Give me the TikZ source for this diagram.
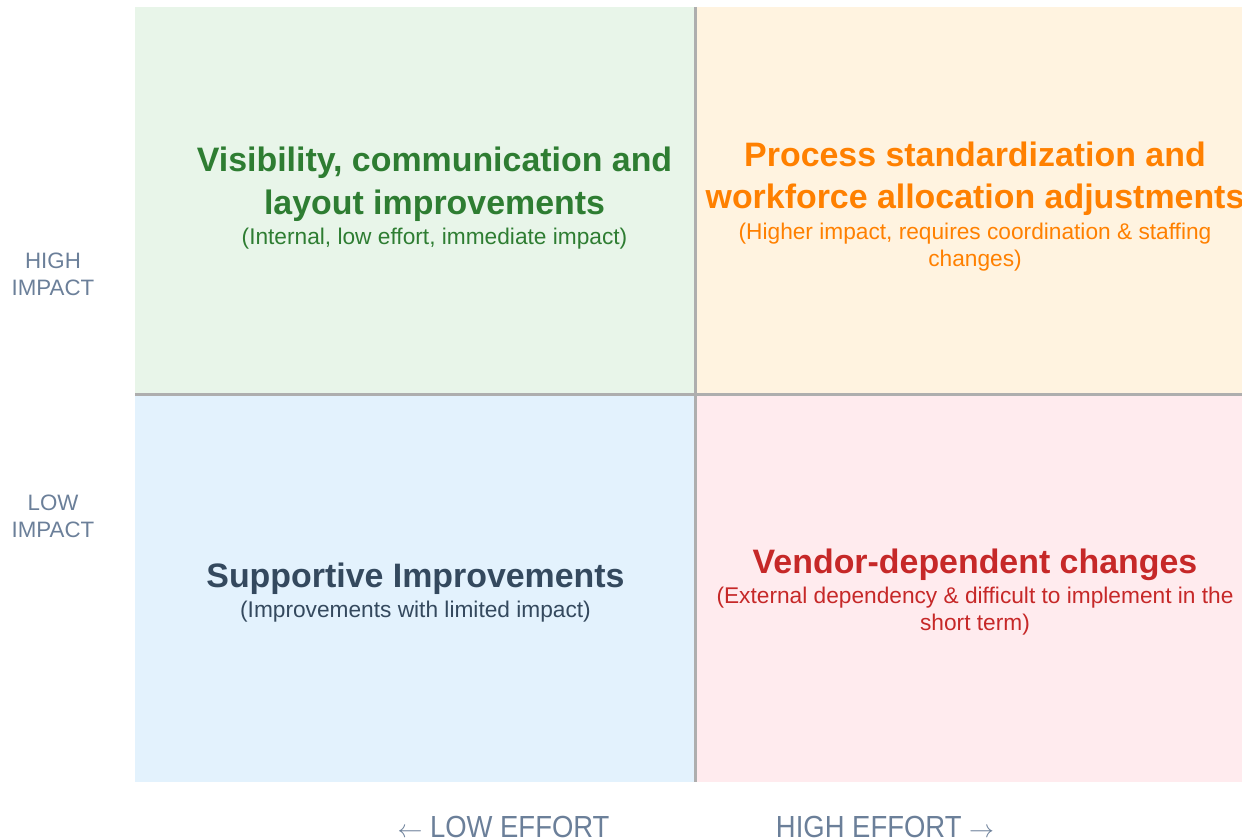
\documentclass[tikz,border=0pt]{standalone}
\usepackage{fontspec}
\setmainfont{Liberation Sans}
\newfontfamily\axisfont[FakeStretch=0.9]{Liberation Sans}
\usepackage{xcolor}
\usepackage{tikz}
\usetikzlibrary{
    positioning
}
\definecolor{greenbg}{HTML}{E8F5E9}
\definecolor{orangebg}{HTML}{FFF3E0}
\definecolor{bluebg}{HTML}{E3F2FD}
\definecolor{redbg}{HTML}{FFEBEE}
\definecolor{greentxt}{HTML}{2E7D32}
\definecolor{orangetxt}{HTML}{FF8000}
\definecolor{bluetxt}{HTML}{34495E}
\definecolor{redtxt}{HTML}{C62828}
\definecolor{axistxt}{HTML}{6B7F99}
\definecolor{divider}{HTML}{AEAEAE}
\tikzset{
    quad/.style={
        rectangle,
        draw=none,
        inner sep=0pt,
        anchor=north west,
        minimum width=560pt,
        minimum height=387.5pt
    },
    headline/.style={
        align=center,
        inner sep=0pt,
        font=\fontsize{33.9}{42.5}\selectfont\bfseries
    },
    note/.style={
        align=center,
        inner sep=0pt,
        font=\fontsize{22.7}{27}\selectfont
    },
    impactlabel/.style={
        align=center,
        inner sep=0pt,
        anchor=north,
        text=axistxt,
        font=\fontsize{22.3}{27}\selectfont
    },
    effortlabel/.style={
        inner sep=0pt,
        anchor=base,
        text=axistxt,
        font=\axisfont\fontsize{30.5}{34}\selectfont
    },
    split/.style={
        draw=divider,
        line width=3pt
    }
}

\begin{document}
\begin{tikzpicture}[x=1pt, y=-1pt, node distance=6.5pt]
\useasboundingbox (0,0) rectangle (1242,840);

% the four quadrants
\node[quad, fill=greenbg] (visq) at (135,7) {};
\node[quad, fill=orangebg] (procq) at (695,7) {};
\node[quad, fill=bluebg] (suppq) at (135,394.5) {};
\node[quad, fill=redbg] (vendq) at (695,394.5) {};

\draw[split] (visq.north east) -- (suppq.south east);
\draw[split] (visq.south west) -- (procq.south east);

% quadrant texts
\node[headline, text=greentxt, anchor=north] (vistitle) at (434.5,147) {Visibility, communication and\\layout improvements};
\node[note, text=greentxt, below=of vistitle] (visnote) {(Internal, low effort, immediate impact)};

\node[headline, text=orangetxt, anchor=north] (proctitle) at (975,141.5) {Process standardization and\\workforce allocation adjustments};
\node[note, text=orangetxt, below=of proctitle] (procnote) {(Higher impact, requires coordination \& staffing\\changes)};

\node[headline, text=bluetxt, anchor=north] (supptitle) at (415.5,562.5) {Supportive Improvements};
\node[note, text=bluetxt, below=of supptitle] (suppnote) {(Improvements with limited impact)};

\node[headline, text=redtxt, anchor=north] (vendtitle) at (975,548.5) {Vendor-dependent changes};
\node[note, text=redtxt, below=of vendtitle] (vendnote) {(External dependency \& difficult to implement in the\\short term)};

% axis labels
\node[impactlabel] (highimp) at (53,252.5) {HIGH\\IMPACT};
\node[impactlabel] (lowimp) at (53,494.5) {LOW\\IMPACT};
\node[effortlabel] (loweff) at (503.5,837) {$\leftarrow$ LOW EFFORT};
\node[effortlabel] (higheff) at (885,837) {HIGH EFFORT $\rightarrow$};
\end{tikzpicture}
\end{document}
